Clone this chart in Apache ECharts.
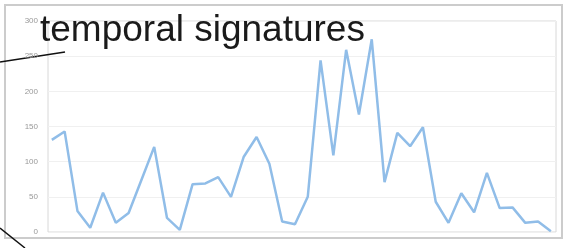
<!DOCTYPE html>
<html>
<head>
<meta charset="utf-8">
<script src="https://cdn.jsdelivr.net/npm/echarts@6/dist/echarts.min.js"></script>
<style>
html, body { margin: 0; padding: 0; background: #fff; }
#chartmain { width: 564px; height: 248px; }
</style>
</head>
<body>
<div id="chartmain"></div>
<script>
// values, one per time step
var counts = [131, 143, 30, 6, 56, 13, 27, 74, 121, 20,
	3, 68, 69, 78, 50, 107, 135, 97, 15, 11,
	50, 244, 109, 259, 167, 274, 71, 141, 122, 149,
	43, 13, 55, 28, 84, 34, 35, 13, 15, 1];
var yTicks = [0, 50, 100, 150, 200, 250, 300];
var titleText = 'temporal signatures';

var points = [];
for (var i = 0; i < counts.length; i++) {
	points.push([i, counts[i]]);
}

var option = {
	animation : false,
	title : {
		text : titleText,
		left : 40,
		top : 12,
		padding : 0,
		textStyle : {
			fontFamily : 'Liberation Sans',
			fontSize : 37,
			fontWeight : 'normal',
			color : '#1a1a1a'
		}
	},
	grid : {
		left : 48,
		right : 8,
		top : 21,
		bottom : 16,
		show : true,
		borderColor : '#d8d8d8',
		borderWidth : 1
	},
	xAxis : {
		type : 'value',
		min : -0.3,
		max : 39.4,
		show : false
	},
	yAxis : {
		type : 'value',
		min : yTicks[0],
		max : yTicks[yTicks.length - 1],
		interval : 50,
		axisLine : { show : false },
		axisTick : { show : false },
		axisLabel : {
			fontSize : 8,
			color : '#999',
			margin : 10,
			fontFamily : 'Liberation Sans'
		},
		splitLine : { lineStyle : { color : '#f0f0f0' } }
	},
	series : [ {
		type : 'line',
		data : points,
		showSymbol : false,
		lineStyle : { color : '#90bde8', width : 2.5 }
	} ],
	graphic : [
		{
			type : 'rect',
			z : -1,
			shape : { x : 5, y : 5, width : 557, height : 233 },
			style : { fill : 'none', stroke : '#cccccc', lineWidth : 2 }
		},
		{
			type : 'line',
			shape : { x1 : 0, y1 : 62, x2 : 65, y2 : 52 },
			style : { stroke : '#111', lineWidth : 1.5 }
		},
		{
			type : 'line',
			shape : { x1 : 0, y1 : 228, x2 : 25, y2 : 248 },
			style : { stroke : '#111', lineWidth : 1.5 }
		}
	]
};
var myChart = echarts.init(document.getElementById('chartmain'));
myChart.setOption(option);
</script>
</body>
</html>
